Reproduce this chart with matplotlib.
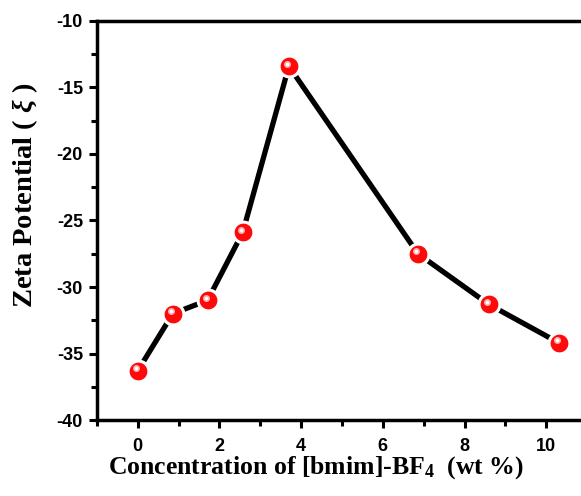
import matplotlib
matplotlib.use("Agg")
import matplotlib.pyplot as plt
import matplotlib.transforms as mtransforms
from matplotlib.ticker import MultipleLocator

conc = [0.0, 0.86, 1.71, 2.57, 3.70, 6.86, 8.59, 10.31]
zeta = [-36.3, -32.0, -31.0, -25.9, -13.4, -27.5, -31.3, -34.2]

plt.rcParams['axes.unicode_minus'] = False
plt.rcParams['mathtext.fontset'] = 'custom'
plt.rcParams['mathtext.rm'] = 'Liberation Serif:bold'
plt.rcParams['mathtext.bf'] = 'Liberation Serif:bold'
plt.rcParams['mathtext.it'] = 'Liberation Serif:italic:bold'

fig = plt.figure(figsize=(5.81, 4.96), dpi=100)
ax = fig.add_axes([0.1667, 0.1532, 0.8333, 0.8045])

ax.plot(conc, zeta, color='black', lw=3.8, zorder=2)
ax.plot(conc, zeta, ls='none', marker='o', ms=15, mfc='#ff0a0a', mec='white', mew=2.2, zorder=3)
# specular highlight
off = mtransforms.ScaledTranslation(-2/100, 2.5/100, fig.dpi_scale_trans)
ax.plot(conc, zeta, ls='none', marker='o', ms=5, mfc='#ffc8c8', mec='none',
        transform=ax.transData + off, zorder=4, alpha=0.9)
ax.plot(conc, zeta, ls='none', marker='o', ms=2.5, mfc='white', mec='none',
        transform=ax.transData + off, zorder=5)

ax.set_xlim(-1, 10.85)
ax.set_ylim(-40, -10)
ax.xaxis.set_major_locator(MultipleLocator(2))
ax.xaxis.set_minor_locator(MultipleLocator(1))
ax.yaxis.set_major_locator(MultipleLocator(5))
ax.yaxis.set_minor_locator(MultipleLocator(2.5))

for s in ['left', 'bottom', 'top']:
    ax.spines[s].set_linewidth(2.5)
ax.spines['right'].set_visible(False)

ax.tick_params(which='major', direction='out', length=6, width=2.2, top=False, right=False)
ax.tick_params(axis='x', which='major', pad=7)
ax.tick_params(axis='y', which='major', pad=4)
ax.tick_params(which='minor', direction='out', length=4, width=2.2, top=False, right=False)
for lab in ax.get_xticklabels() + ax.get_yticklabels():
    lab.set_fontfamily('Liberation Sans')
    lab.set_fontweight('bold')
    lab.set_fontsize(13)

ax.set_xlabel(r'Concentration of [bmim]-BF$_{\mathbf{4}}$  (wt %)',
              fontfamily='Liberation Serif', fontweight='bold', fontsize=18.5, va='center')
ax.xaxis.set_label_coords(0.452, -0.12)
ax.set_ylabel(r'Zeta Potential ( $\mathit{\xi}$ )',
              fontfamily='Liberation Serif', fontweight='bold', fontsize=20.5, va='center')
ax.yaxis.set_label_coords(-0.148, 0.564)

fig.savefig('out.png', dpi=100)
